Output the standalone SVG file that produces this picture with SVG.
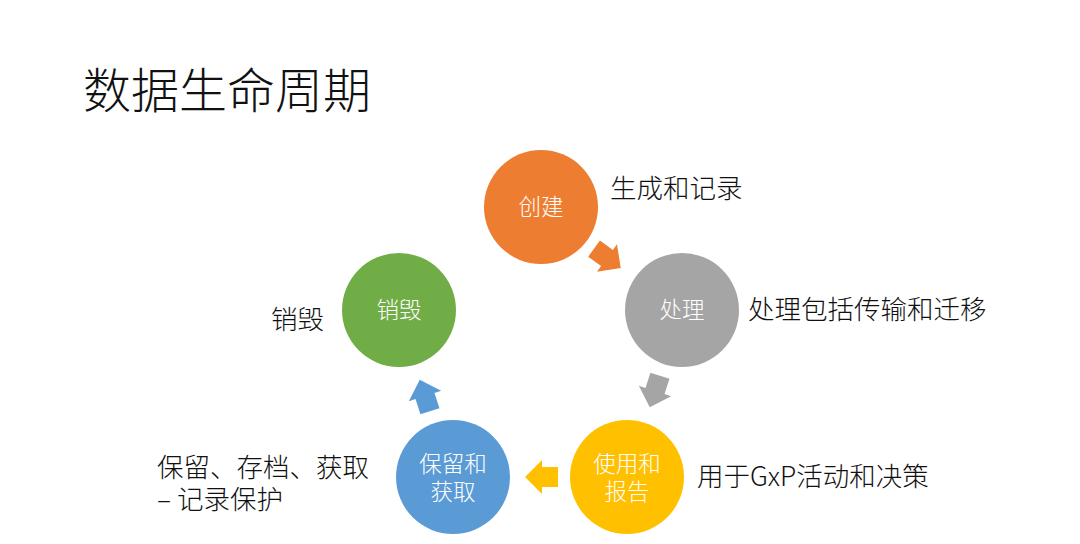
<svg xmlns="http://www.w3.org/2000/svg" width="1080" height="544" viewBox="0 0 1080 544">
<style>
.t{font-family:"Noto Sans CJK SC","Liberation Sans",sans-serif;fill:#111;font-weight:300}
.title{font-size:48px}
.lab{font-size:26.5px}
.in{font-size:22.5px;fill:#fff;text-anchor:middle;font-family:"Noto Sans CJK SC","Liberation Sans",sans-serif;font-weight:300}
</style>
<defs>
<path id="arr" d="M-16,-10 L0,-10 L0,-17 L17,0 L0,17 L0,10 L-16,10 Z"/>
</defs>
<rect width="1080" height="544" fill="#fff"/>
<text class="t title" x="83" y="108">数据生命周期</text>
<g id="connectors">
<use href="#arr" fill="#ED7D31" transform="translate(607,258) rotate(36)"/>
<use href="#arr" fill="#A5A5A5" transform="translate(655,391) rotate(108)"/>
<use href="#arr" fill="#FFC000" transform="translate(542,477) rotate(180)"/>
<use href="#arr" fill="#5B9BD5" transform="translate(425,396) rotate(-108)"/>
</g>
<g id="create">
<circle cx="541" cy="207" r="57" fill="#ED7D31"/>
<text class="in" x="541" y="215">创建</text>
<text class="t lab" x="610" y="198">生成和记录</text>
</g>
<g id="process">
<circle cx="682" cy="310" r="57" fill="#A5A5A5"/>
<text class="in" x="682" y="318">处理</text>
<text class="t lab" x="748" y="319">处理包括传输和迁移</text>
</g>
<g id="use">
<circle cx="627" cy="477" r="57" fill="#FFC000"/>
<text class="in" x="627" y="472">使用和</text>
<text class="in" x="627" y="500">报告</text>
<text class="t lab" x="697" y="486">用于GxP活动和决策</text>
</g>
<g id="retain">
<circle cx="453" cy="477" r="57" fill="#5B9BD5"/>
<text class="in" x="453" y="472">保留和</text>
<text class="in" x="453" y="500">获取</text>
<text class="t lab" x="157" y="477">保留、存档、获取</text>
<text class="t lab" x="157" y="509">– 记录保护</text>
</g>
<g id="destroy">
<circle cx="399" cy="310" r="57" fill="#70AD47"/>
<text class="in" x="399" y="318">销毁</text>
<text class="t lab" x="271" y="329">销毁</text>
</g>
</svg>
